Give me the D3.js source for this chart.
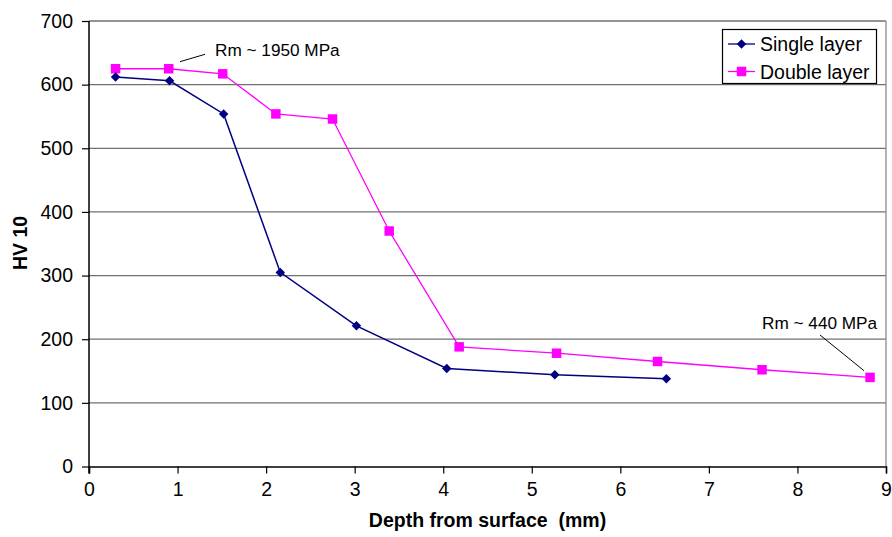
<!DOCTYPE html>
<html>
<head>
<meta charset="utf-8">
<script src="https://cdn.jsdelivr.net/npm/d3@7"></script>
<style>
  body { margin: 0; background: #fff; }
  text { font-family: "Liberation Sans", Arial, sans-serif; }
</style>
</head>
<body>
<svg id="chart"></svg>
<script>
// data
const singleDepth = [0.30, 0.91, 1.52, 2.16, 3.02, 4.04, 5.26, 6.52];
const singleHV = [612, 606, 554, 305, 221, 154, 144, 138];
const doubleDepth = [0.30, 0.90, 1.51, 2.11, 2.75, 3.39, 4.18, 5.28, 6.42, 7.60, 8.82];
const doubleHV = [625, 625, 617, 554, 546, 370, 188, 178, 165, 152, 140];
const xTicks = [0, 1, 2, 3, 4, 5, 6, 7, 8, 9];
const yTicks = [0, 100, 200, 300, 400, 500, 600, 700];
const seriesNames = ["Single layer", "Double layer"];

const width = 892, height = 537;
const margin = {left: 89, right: 6, top: 21, bottom: 70.5};

const svg = d3.select("#chart")
    .attr("width", width)
    .attr("height", height);

const x = d3.scaleLinear().domain([0, 9]).range([margin.left, width - margin.right]);
const y = d3.scaleLinear().domain([0, 700]).range([height - margin.bottom, margin.top]);

// gridlines
svg.append("g")
    .selectAll("line")
    .data(yTicks.slice(1))
    .enter().append("line")
    .attr("x1", x(0)).attr("x2", x(9))
    .attr("y1", d => y(d)).attr("y2", d => y(d))
    .attr("stroke", "#707070")
    .attr("stroke-width", 1.3);

// right border of plot area
svg.append("line")
    .attr("x1", x(9)).attr("x2", x(9))
    .attr("y1", y(700)).attr("y2", y(0))
    .attr("stroke", "#8a8a8a")
    .attr("stroke-width", 1.3);

// axes
const xAxis = svg.append("g")
    .attr("transform", `translate(0,${y(0)})`)
    .call(d3.axisBottom(x).tickValues(xTicks).tickSize(7).tickPadding(9).tickFormat(d3.format("d")));
const yAxis = svg.append("g")
    .attr("transform", `translate(${x(0)},0)`)
    .call(d3.axisLeft(y).tickValues(yTicks).tickSize(7).tickPadding(9).tickFormat(d3.format("d")));

[xAxis, yAxis].forEach(a => {
  a.select(".domain").attr("stroke", "#000").attr("stroke-width", 1.5);
  a.selectAll(".tick line").attr("stroke", "#000").attr("stroke-width", 1.2);
  a.selectAll(".tick text")
      .attr("font-family", "Liberation Sans, Arial, sans-serif")
      .attr("font-size", 19.5)
      .attr("fill", "#000");
});
yAxis.select(".domain").attr("d", `M0,${y(0) + 7}V${y(700)}`);

// axis titles
svg.append("text")
    .attr("x", (x(0) + x(9)) / 2)
    .attr("y", 527)
    .attr("text-anchor", "middle")
    .attr("font-size", 19.5)
    .attr("font-weight", "bold")
    .text("Depth from surface\u00a0\u00a0(mm)");

svg.append("text")
    .attr("transform", `translate(27,${243}) rotate(-90)`)
    .attr("text-anchor", "middle")
    .attr("font-size", 19.5)
    .attr("font-weight", "bold")
    .text("HV 10");

const line = d3.line().x(d => x(d[0])).y(d => y(d[1]));
const singleData = singleDepth.map((d, i) => [d, singleHV[i]]);
const doubleData = doubleDepth.map((d, i) => [d, doubleHV[i]]);

const diamond = d3.symbol(d3.symbolSquare, 45);
const square = d3.symbol(d3.symbolSquare, 90);

// double layer series
svg.append("path")
    .datum(doubleData)
    .attr("d", line)
    .attr("fill", "none")
    .attr("stroke", "#ff00ff")
    .attr("stroke-width", 1.3);
svg.append("g").selectAll("path")
    .data(doubleData)
    .enter().append("path")
    .attr("d", square)
    .attr("transform", d => `translate(${x(d[0])},${y(d[1])})`)
    .attr("fill", "#ff00ff");

// single layer series
svg.append("path")
    .datum(singleData)
    .attr("d", line)
    .attr("fill", "none")
    .attr("stroke", "#000080")
    .attr("stroke-width", 1.5);
svg.append("g").selectAll("path")
    .data(singleData)
    .enter().append("path")
    .attr("d", diamond)
    .attr("transform", d => `translate(${x(d[0])},${y(d[1])}) rotate(45)`)
    .attr("fill", "#000080");

// annotations
svg.append("line")
    .attr("x1", 180).attr("y1", 61.7).attr("x2", 205).attr("y2", 54.3)
    .attr("stroke", "#000").attr("stroke-width", 1);
svg.append("text")
    .attr("x", 215).attr("y", 56)
    .attr("font-size", 17.2)
    .text("Rm ~ 1950 MPa");

svg.append("line")
    .attr("x1", 820).attr("y1", 335).attr("x2", 864).attr("y2", 370.7)
    .attr("stroke", "#000").attr("stroke-width", 1);
svg.append("text")
    .attr("x", 762).attr("y", 329)
    .attr("font-size", 17.2)
    .text("Rm ~ 440 MPa");

// legend
const legend = svg.append("g");
legend.append("rect")
    .attr("x", 722.5).attr("y", 29.5)
    .attr("width", 154).attr("height", 54)
    .attr("fill", "#fff")
    .attr("stroke", "#000")
    .attr("stroke-width", 1.2);
const legendColors = ["#000080", "#ff00ff"];
const legendSymbols = [diamond, square];
const legendRotate = [45, 0];
seriesNames.forEach((name, i) => {
  const ly = 44 + i * 27.5;
  legend.append("line")
      .attr("x1", 728).attr("x2", 755)
      .attr("y1", ly).attr("y2", ly)
      .attr("stroke", legendColors[i])
      .attr("stroke-width", 1.3);
  legend.append("path")
      .attr("d", legendSymbols[i])
      .attr("transform", `translate(741.5,${ly}) rotate(${legendRotate[i]})`)
      .attr("fill", legendColors[i]);
  legend.append("text")
      .attr("x", 760).attr("y", ly + 7)
      .attr("font-size", 19.5)
      .text(name);
});
</script>
</body>
</html>
